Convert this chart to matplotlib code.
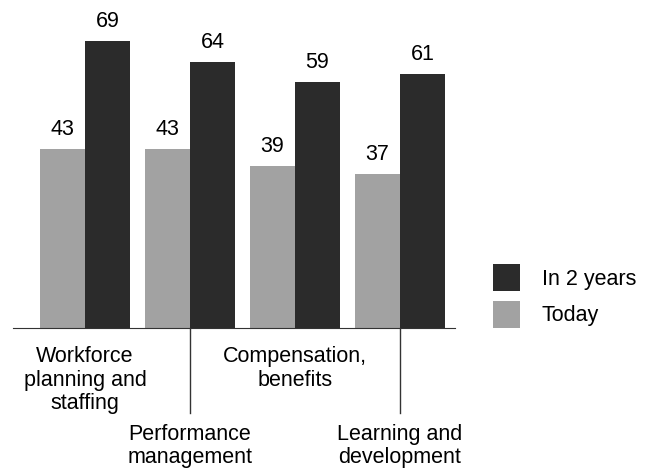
import matplotlib.pyplot as plt
import numpy as np

plt.rcParams['font.family'] = ['Liberation Sans', 'DejaVu Sans']

categories = ["Workforce\nplanning and\nstaffing", "Performance\nmanagement",
              "Compensation,\nbenefits", "Learning and\ndevelopment"]
today = [43, 43, 39, 37]
in_2_years = [69, 64, 59, 61]

dark = '#2b2b2b'
gray = '#a2a2a2'
fs = 15.5

W, H = 651, 471
fig = plt.figure(figsize=(W / 100, H / 100), dpi=100)
# axes placed in pixels: baseline at y=328 from top, x from 13 to 455
ax = fig.add_axes([13 / W, (H - 328) / H, 442 / W, 308 / H])
ax.set_xlim(-72 / 105, 370 / 105)
ax.set_ylim(0, 74)

x = np.arange(len(categories))
width = 45 / 105
b1 = ax.bar(x - width / 2, today, width, color=gray, label='Today')
b2 = ax.bar(x + width / 2, in_2_years, width, color=dark, label='In 2 years')

for bars in (b1, b2):
    for rect in bars:
        ax.annotate(f"{rect.get_height():.0f}",
                    (rect.get_x() + rect.get_width() / 2, rect.get_height()),
                    xytext=(0, 6.5), textcoords='offset points',
                    ha='center', va='bottom', fontsize=fs)

for s in ['top', 'right', 'left']:
    ax.spines[s].set_visible(False)
ax.spines['bottom'].set_color('#333333')
ax.set_xticks([])
ax.set_yticks([])

# staggered category labels
for i, cat in enumerate(categories):
    if i % 2 == 0:
        ax.text(i, -4.4, cat, ha='center', va='top', fontsize=fs,
                linespacing=1.16, clip_on=False)
    else:
        ax.plot([i, i], [0, -20.4], color='#333333', lw=1, clip_on=False)
        ax.text(i, -23.0, cat, ha='center', va='top', fontsize=fs,
                linespacing=1.16, clip_on=False)

fig.legend(handles=[b2, b1], loc='upper left',
           bbox_to_anchor=(493 / W, (H - 264) / H), frameon=False,
           fontsize=fs, handlelength=1.254, handleheight=1.553,
           handletextpad=1.0, labelspacing=0.45, borderpad=0,
           borderaxespad=0)

fig.savefig('out.png', dpi=100)
